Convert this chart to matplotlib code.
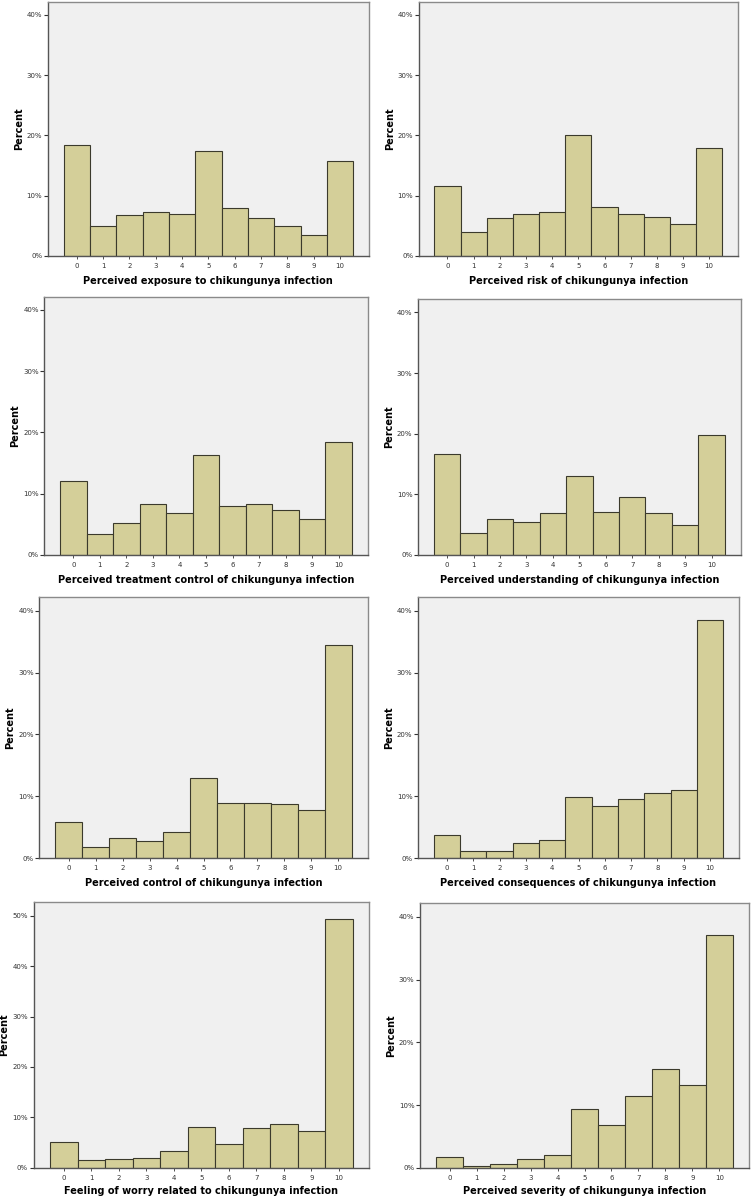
import numpy as np
import matplotlib
matplotlib.use("Agg")
import matplotlib.pyplot as plt
from matplotlib.ticker import FuncFormatter, MultipleLocator

# score categories 0..10
scores = list(range(11))

exposure = [18.4, 4.9, 6.8, 7.2, 7.0, 17.4, 8.0, 6.2, 5.0, 3.5, 15.7]
risk = [11.5, 4.0, 6.3, 6.9, 7.2, 20.0, 8.1, 6.9, 6.5, 5.2, 17.9]
treatment_control = [12.0, 3.4, 5.2, 8.4, 6.8, 16.3, 8.0, 8.3, 7.4, 5.9, 18.5]
understanding = [16.6, 3.7, 6.0, 5.4, 6.9, 13.0, 7.1, 9.5, 7.0, 5.0, 19.8]
control = [5.8, 1.9, 3.2, 2.8, 4.3, 12.9, 9.0, 9.0, 8.8, 7.8, 34.5]
consequences = [3.8, 1.2, 1.1, 2.5, 2.9, 9.9, 8.5, 9.5, 10.6, 11.1, 38.5]
worry = [5.2, 1.5, 1.8, 1.9, 3.3, 8.0, 4.8, 7.9, 8.6, 7.3, 49.3]
severity = [1.7, 0.3, 0.6, 1.5, 2.0, 9.4, 6.8, 11.5, 15.8, 13.2, 37.1]

xlabels = [
    "Perceived exposure to chikungunya infection",
    "Perceived risk of chikungunya infection",
    "Perceived treatment control of chikungunya infection",
    "Perceived understanding of chikungunya infection",
    "Perceived control of chikungunya infection",
    "Perceived consequences of chikungunya infection",
    "Feeling of worry related to chikungunya infection",
    "Perceived severity of chikungunya infection",
]
series = [exposure, risk, treatment_control, understanding,
          control, consequences, worry, severity]
ytop = [40, 40, 40, 40, 40, 40, 50, 40]

# axes boxes in pixels: left, right, top, bottom
boxes = [
    (47.7, 369, 2, 255.7),
    (418.7, 738, 2, 255.7),
    (44.3, 367.7, 296.7, 555),
    (418, 740.7, 299.3, 555),
    (39.3, 367.7, 597.3, 858.3),
    (418, 739, 597.3, 858.3),
    (33.5, 369, 902.3, 1167.7),
    (420, 749, 903.3, 1168),
]

W, H = 756, 1197
fig = plt.figure(figsize=(W / 100, H / 100), dpi=100)
fig.patch.set_facecolor("white")

bar_col = "#D4CF99"
edge_col = "#3b3a2c"
bg_col = "#F0F0F0"
frame_col = "#8a8a8a"

for i, (vals, lab, top, (l, r, t, b)) in enumerate(zip(series, xlabels, ytop, boxes)):
    ax = fig.add_axes([l / W, 1 - b / H, (r - l) / W, (b - t) / H])
    ax.set_facecolor(bg_col)
    ax.bar(scores, vals, width=1.0, color=bar_col, edgecolor=edge_col, linewidth=0.8)
    ax.set_xlim(-1.1, 11.1)
    ax.set_ylim(0, top * 1.054)
    ax.yaxis.set_major_locator(MultipleLocator(10))
    ax.yaxis.set_major_formatter(FuncFormatter(lambda v, p: "%d%%" % v))
    ax.set_xticks(scores)
    for s in ax.spines.values():
        s.set_color(frame_col)
        s.set_linewidth(1.0)
    ax.spines["left"].set_color("#555555")
    ax.spines["bottom"].set_color("#555555")
    ax.tick_params(axis="y", labelsize=5, length=3, width=0.8, color="#333333",
                   labelcolor="#333333", pad=1)
    ax.tick_params(axis="x", labelsize=5, length=2, width=0.6, color="#333333",
                   labelcolor="#333333", pad=3)
    ax.set_xlabel(lab, fontsize=7, fontweight="bold", labelpad=4 if i >= 6 else 5)
    ax.set_ylabel("Percent", fontsize=7, fontweight="bold", labelpad=2)

fig.savefig("out.png", dpi=100)
